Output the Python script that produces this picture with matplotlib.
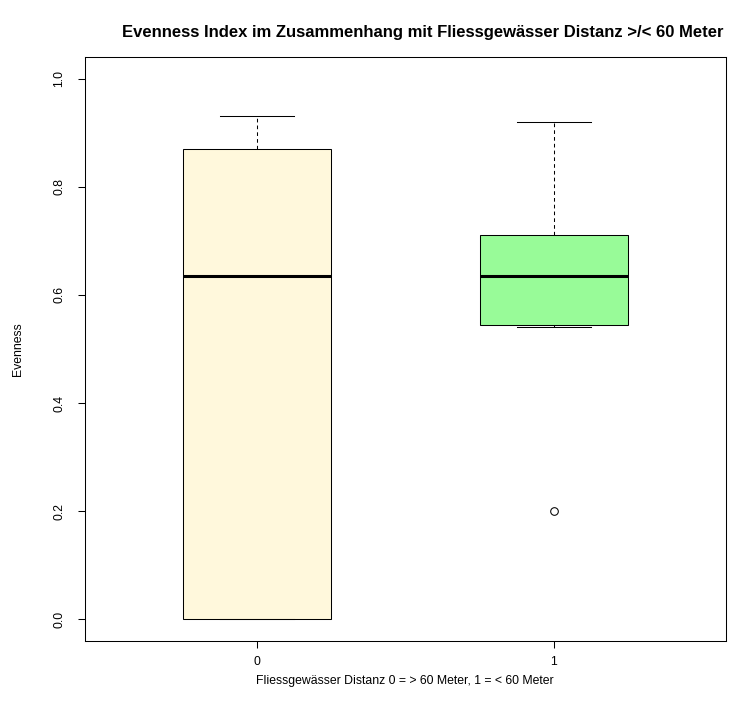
import matplotlib
matplotlib.use("Agg")
import matplotlib.pyplot as plt

plt.rcParams['font.family'] = ['Liberation Sans', 'DejaVu Sans']

# Kennwerte der beiden Gruppen (0 = > 60 m, 1 = < 60 m)
gruppen = ["0", "1"]
unteres_whisker = [0.0, 0.54]
q1 = [0.0, 0.545]
median = [0.635, 0.635]
q3 = [0.87, 0.71]
oberes_whisker = [0.93, 0.92]
ausreisser = [[], [0.2]]
farben = ["#FFF8DC", "#98FB98"]  # cornsilk, palegreen

stats = []
for i in range(len(gruppen)):
    stats.append({
        "label": gruppen[i],
        "whislo": unteres_whisker[i],
        "q1": q1[i],
        "med": median[i],
        "q3": q3[i],
        "whishi": oberes_whisker[i],
        "fliers": ausreisser[i],
    })

W, H = 740, 716
fig = plt.figure(figsize=(W / 100, H / 100), dpi=100)
ax = fig.add_axes([85 / W, 1 - 641 / H, 641 / W, 584 / H])

bp = ax.bxp(stats, positions=[1, 2], widths=0.5, capwidths=0.25,
            patch_artist=True, showfliers=True,
            boxprops=dict(edgecolor="black", linewidth=0.75),
            medianprops=dict(color="black", linewidth=2.2, solid_capstyle="butt"),
            whiskerprops=dict(color="black", linewidth=0.75, linestyle=(0, (3.5, 3))),
            capprops=dict(color="black", linewidth=0.75),
            flierprops=dict(marker="o", markersize=5.5, markerfacecolor="none",
                            markeredgecolor="black", markeredgewidth=0.75))
for patch, f in zip(bp["boxes"], farben):
    patch.set_facecolor(f)

ax.set_xlim(0.42, 2.58)
ax.set_ylim(-0.04, 1.04)
ax.set_xticks([1, 2])
ax.set_xticklabels(gruppen)
ax.set_yticks([0.0, 0.2, 0.4, 0.6, 0.8, 1.0])
ax.set_yticklabels(["0.0", "0.2", "0.4", "0.6", "0.8", "1.0"], rotation=90, va="center")
ax.tick_params(axis="both", direction="out", length=5, width=0.75, labelsize=8.8)
ax.tick_params(axis="x", pad=6)
ax.tick_params(axis="y", pad=9)
for s in ax.spines.values():
    s.set_linewidth(0.75)

# Beschriftungen
fig.text(423 / W, 1 - 33 / H,
         "Evenness Index im Zusammenhang mit Fliessgewässer Distanz >/< 60 Meter",
         ha="center", va="center", fontsize=12, fontweight="bold")
fig.text(405 / W, 1 - 681 / H, "Fliessgewässer Distanz 0 = > 60 Meter, 1 = < 60 Meter",
         ha="center", va="center", fontsize=8.8)
fig.text(18 / W, 1 - 349 / H, "Evenness", rotation=90, ha="center", va="center", fontsize=8.8)

fig.savefig("out.png", dpi=100)
